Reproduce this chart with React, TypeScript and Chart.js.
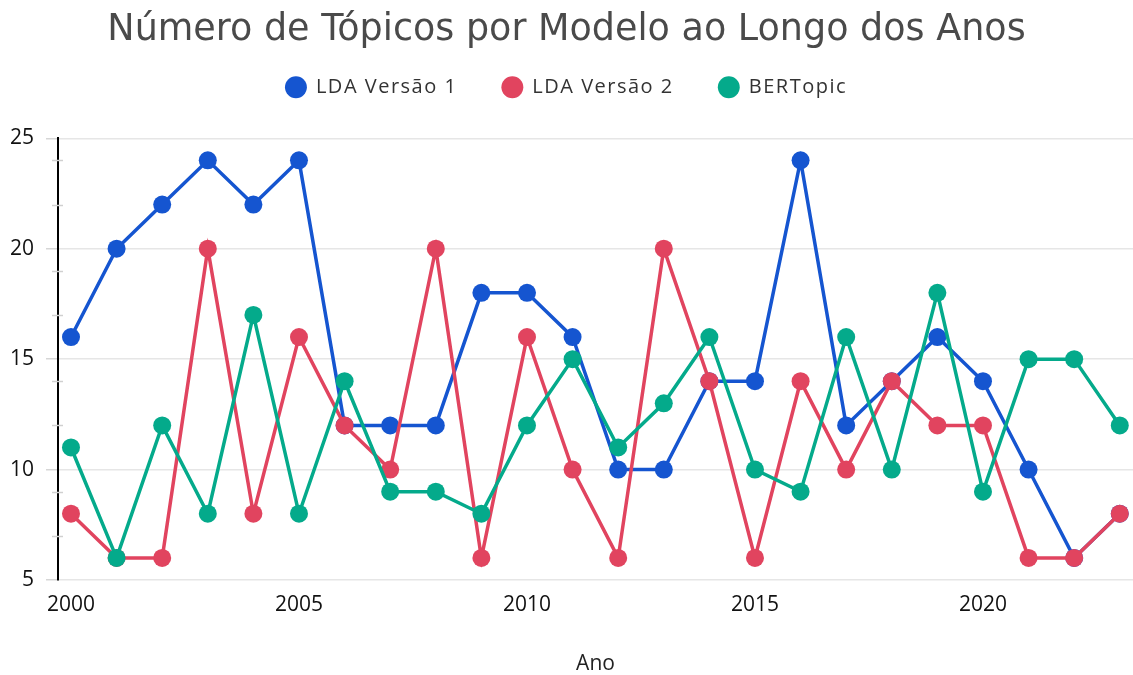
import React, { useEffect, useRef } from "react";
import { Chart, registerables } from "chart.js";

Chart.register(...registerables);

const years = [2000, 2001, 2002, 2003, 2004, 2005, 2006, 2007, 2008, 2009, 2010, 2011, 2012, 2013, 2014, 2015, 2016, 2017, 2018, 2019, 2020, 2021, 2022, 2023];
const ldaV1 = [16, 20, 22, 24, 22, 24, 12, 12, 12, 18, 18, 16, 10, 10, 14, 14, 24, 12, 14, 16, 14, 10, 6, 8];
const ldaV2 = [8, 6, 6, 20, 8, 16, 12, 10, 20, 6, 16, 10, 6, 20, 14, 6, 14, 10, 14, 12, 12, 6, 6, 8];
const bertopic = [11, 6, 12, 8, 17, 8, 14, 9, 9, 8, 12, 15, 11, 13, 16, 10, 9, 16, 10, 18, 9, 15, 15, 12];
const xTickValues = [2000, 2005, 2010, 2015, 2020];
const yTickValues = [5, 10, 15, 20, 25];
const yMinorTicks = [7, 9, 12, 14, 17, 19, 22, 24];

const seriesNames = ["LDA Versão 1", "LDA Versão 2", "BERTopic"];
const seriesColors = ["#1555d0", "#e1445f", "#04aa8b"];

const minorTickPlugin = {
  id: "minorTicks",
  afterDraw(chart: any) {
    const y = chart.scales.y;
    const ctx = chart.ctx;
    ctx.save();
    ctx.strokeStyle = "#d0d0d0";
    ctx.lineWidth = 1.5;
    const axisX = chart.chartArea.left;
    yMinorTicks.forEach((v) => {
      const py = Math.round(y.getPixelForValue(v)) + 0.5;
      ctx.beginPath();
      ctx.moveTo(axisX - 6, py);
      ctx.lineTo(axisX + 5, py);
      ctx.stroke();
    });
    ctx.restore();
  },
};

const legendSpacingPlugin = {
  id: "legendSpacing",
  beforeLayout(chart: any) {
    const lg = chart.legend;
    if (!lg || lg._patched) return;
    lg._patched = true;
    const origFit = lg.fit.bind(lg);
    const origDraw = lg.draw.bind(lg);
    lg.fit = function () {
      const ctx = chart.ctx;
      ctx.save();
      ctx.letterSpacing = "1.5px";
      origFit();
      ctx.restore();
      this.height += 31;
    };
    lg.draw = function (area: any) {
      const ctx = chart.ctx;
      ctx.save();
      ctx.letterSpacing = "1.5px";
      origDraw(area);
      ctx.restore();
    };
  },
};

export default function App() {
  const ref = useRef<HTMLCanvasElement | null>(null);

  useEffect(() => {
    document.body.style.margin = "0";
    const series = [ldaV1, ldaV2, bertopic];
    const chart = new Chart(ref.current as HTMLCanvasElement, {
      type: "line",
      data: {
        datasets: series.map((vals, i) => ({
          label: seriesNames[i],
          data: years.map((yr, j) => ({ x: yr, y: vals[j] })),
          borderColor: seriesColors[i],
          backgroundColor: seriesColors[i],
          pointBackgroundColor: seriesColors[i],
          pointBorderColor: seriesColors[i],
          borderWidth: 3.5,
          pointRadius: 9,
          pointBorderWidth: 0,
          tension: 0,
          order: 2 - i,
        })),
      },
      plugins: [minorTickPlugin, legendSpacingPlugin],
      options: {
        animation: false,
        responsive: false,
        maintainAspectRatio: false,
        layout: { autoPadding: false, padding: { left: 0, right: 0, top: 0, bottom: 0 } },
        plugins: {
          title: {
            display: true,
            text: "Número de Tópicos por Modelo ao Longo dos Anos",
            color: "#4a4a4a",
            font: { family: "'DejaVu Sans', sans-serif", size: 36.5, weight: "normal", lineHeight: 1 },
            padding: { top: 12, bottom: -16.25 },
          },
          legend: {
            display: true,
            position: "top",
            labels: {
              sort: (a: any, b: any) => a.datasetIndex - b.datasetIndex,
              usePointStyle: true,
              pointStyle: "circle",
              boxWidth: 20,
              boxHeight: 15.5,
              padding: 45,
              color: "#333333",
              font: { family: "'Open Sans', sans-serif", size: 20 },
            },
          },
          tooltip: { enabled: false },
        },
        scales: {
          x: {
            type: "linear",
            min: 1999.715,
            max: 2023.29,
            afterBuildTicks: (scale: any) => {
              scale.ticks = xTickValues.map((v) => ({ value: v }));
            },
            afterFit: (scale: any) => {
              scale.height = 95;
            },
            border: { display: false },
            grid: { display: false, drawTicks: false },
            ticks: {
              color: "#111111",
              font: { family: "'Open Sans', sans-serif", size: 21 },
              padding: 12,
              maxRotation: 0,
              callback: (v: any) => String(v),
            },
            title: {
              display: true,
              text: "Ano",
              color: "#222222",
              font: { family: "'Open Sans', sans-serif", size: 21, lineHeight: 1 },
              padding: { top: 0, bottom: 0 },
            },
          },
          y: {
            min: 5,
            max: 25,
            afterBuildTicks: (scale: any) => {
              scale.ticks = yTickValues.map((v) => ({ value: v }));
            },
            afterFit: (scale: any) => {
              scale.width = 58;
            },
            border: { display: true, color: "#000000", width: 2 },
            grid: {
              color: "#e6e6e6",
              lineWidth: 1.5,
              drawTicks: true,
              tickLength: 12,
              tickColor: "#d6d6d6",
            },
            ticks: {
              color: "#111111",
              font: { family: "'Open Sans', sans-serif", size: 21 },
              padding: 12,
            },
          },
        },
      },
    } as any);
    return () => chart.destroy();
  }, []);

  return (
    <div style={{ width: 1133, height: 675 }}>
      <canvas ref={ref} width={1133} height={675} style={{ display: "block" }} />
    </div>
  );
}
